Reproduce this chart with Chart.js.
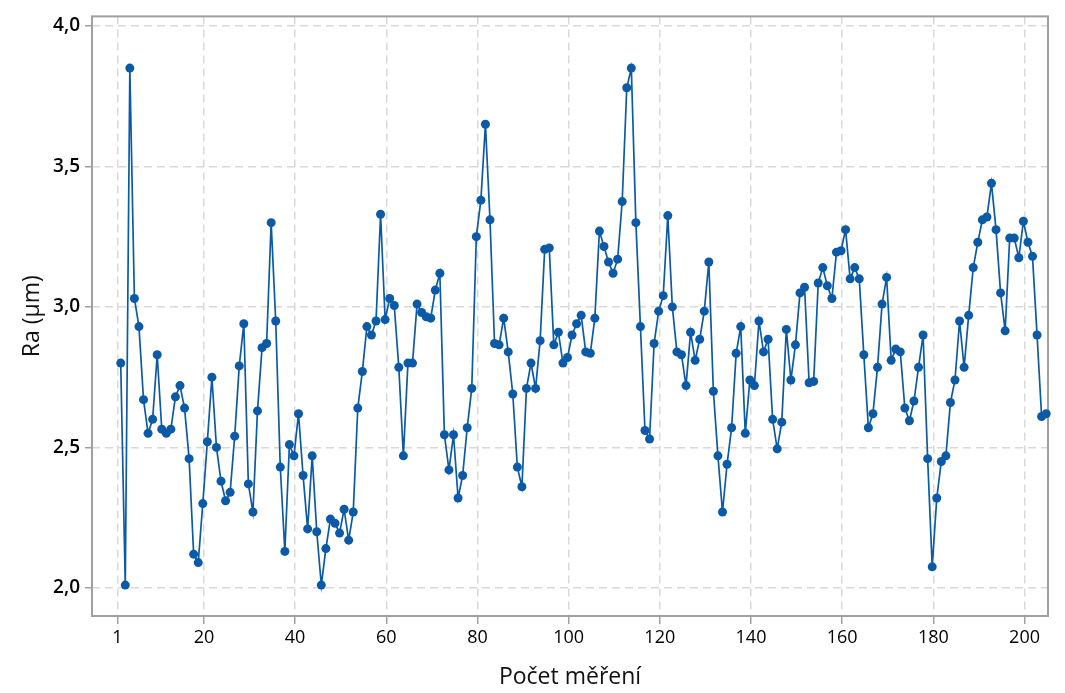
<!DOCTYPE html>
<html lang="cs">
<head>
  <meta charset="utf-8" />
  <title>Ra – průběh měření</title>
  <style>
    html, body { margin: 0; padding: 0; background: #fff; }
    #wrap { width: 1065px; height: 693px; position: relative; }
  </style>
</head>
<body>
  <div id="wrap"><canvas id="chartRa" width="1065" height="693"></canvas></div>
  <script src="https://cdn.jsdelivr.net/npm/chart.js@4.4.1/dist/chart.umd.min.js"></script>
  <script>
  const raValues = [
    2.80, 2.01, 3.85, 3.03, 2.93, 2.67, 2.55, 2.60, 2.83, 2.565,
    2.55, 2.565, 2.68, 2.72, 2.64, 2.46, 2.12, 2.09, 2.30, 2.52,
    2.75, 2.50, 2.38, 2.31, 2.34, 2.54, 2.79, 2.94, 2.37, 2.27,
    2.63, 2.855, 2.87, 3.30, 2.95, 2.43, 2.13, 2.51, 2.47, 2.62,
    2.40, 2.21, 2.47, 2.20, 2.01, 2.14, 2.245, 2.23, 2.195, 2.28,
    2.17, 2.27, 2.64, 2.77, 2.93, 2.90, 2.95, 3.33, 2.955, 3.03,
    3.005, 2.785, 2.47, 2.80, 2.80, 3.01, 2.98, 2.965, 2.96, 3.06,
    3.12, 2.545, 2.42, 2.545, 2.32, 2.40, 2.57, 2.71, 3.25, 3.38,
    3.65, 3.31, 2.87, 2.865, 2.96, 2.84, 2.69, 2.43, 2.36, 2.71,
    2.80, 2.71, 2.88, 3.205, 3.21, 2.865, 2.91, 2.80, 2.82, 2.90,
    2.94, 2.97, 2.84, 2.835, 2.96, 3.27, 3.215, 3.16, 3.12, 3.17,
    3.375, 3.78, 3.85, 3.30, 2.93, 2.56, 2.53, 2.87, 2.985, 3.04,
    3.325, 3.00, 2.84, 2.83, 2.72, 2.91, 2.81, 2.885, 2.985, 3.16,
    2.70, 2.47, 2.27, 2.44, 2.57, 2.835, 2.93, 2.55, 2.74, 2.72,
    2.95, 2.84, 2.885, 2.60, 2.495, 2.59, 2.92, 2.74, 2.865, 3.05,
    3.07, 2.73, 2.735, 3.085, 3.14, 3.075, 3.03, 3.195, 3.20, 3.275,
    3.10, 3.14, 3.10, 2.83, 2.57, 2.62, 2.785, 3.01, 3.105, 2.81,
    2.85, 2.84, 2.64, 2.595, 2.665, 2.785, 2.90, 2.46, 2.075, 2.32,
    2.45, 2.47, 2.66, 2.74, 2.95, 2.785, 2.97, 3.14, 3.23, 3.31,
    3.32, 3.44, 3.275, 3.05, 2.915, 3.245, 3.245, 3.175, 3.305, 3.23,
    3.18, 2.90, 2.61, 2.62
  ];
  const measurementNo = raValues.map(function (_, i) { return i + 1; });
  const xTicks = [1, 20, 40, 60, 80, 100, 120, 140, 160, 180, 200];
  const yTicks = [2.0, 2.5, 3.0, 3.5, 4.0];
  // in the original the x gridlines sit a little left of the points
  const xTickShift = 0.75;

  const lineColor = "#0b5aa8";
  const axisGray = "#a0a0a0";
  const gridGray = "#d9d9d9";
  const fontFamily = "'Open Sans', 'Noto Sans', sans-serif";

  // box round the plot area
  const frame = {
    id: "frame",
    beforeDatasetsDraw(chart) {
      const a = chart.chartArea;
      const ctx = chart.ctx;
      ctx.save();
      ctx.strokeStyle = axisGray;
      ctx.lineWidth = 2;
      ctx.strokeRect(a.left, a.top, a.right - a.left, a.bottom - a.top);
      ctx.restore();
    }
  };

  new Chart(document.getElementById("chartRa"), {
    type: "line",
    data: {
      datasets: [{
        data: measurementNo.map(function (n, i) { return { x: n, y: raValues[i] }; }),
        borderColor: lineColor,
        backgroundColor: lineColor,
        borderWidth: 1.7,
        pointRadius: 4.5,
        pointBorderWidth: 0,
        pointBackgroundColor: lineColor,
        tension: 0,
        clip: 6
      }]
    },
    plugins: [frame],
    options: {
      responsive: false,
      animation: false,
      devicePixelRatio: 1,
      layout: { padding: { left: 0, right: 17, top: 15, bottom: 0 } },
      plugins: { legend: { display: false }, tooltip: { enabled: false } },
      scales: {
        x: {
          type: "linear",
          min: -5.3,
          max: 204.4,
          afterBuildTicks: function (s) {
            s.ticks = xTicks.map(function (v) { return { value: v - xTickShift, label: String(v) }; });
          },
          afterFit: function (s) { s.height = 77; },
          border: { display: false, dash: [8, 5] },
          grid: {
            color: gridGray,
            lineWidth: 1.5,
            drawTicks: true,
            tickLength: 8,
            tickColor: axisGray,
            tickWidth: 1.5,
            tickBorderDash: []
          },
          ticks: {
            autoSkip: false,
            maxRotation: 0,
            padding: 3,
            color: "#000",
            font: { family: fontFamily, size: 18 },
            callback: function (v, i) { return String(xTicks[i]); }
          },
          title: {
            display: true,
            text: "Počet měření",
            color: "#111",
            padding: { top: 0, bottom: 2 },
            font: { family: fontFamily, size: 23 }
          }
        },
        y: {
          type: "linear",
          min: 1.9,
          max: 4.034,
          afterBuildTicks: function (s) { s.ticks = yTicks.map(function (v) { return { value: v }; }); },
          afterFit: function (s) { s.width = 92; },
          border: { display: false, dash: [8, 5] },
          grid: {
            color: gridGray,
            lineWidth: 1.5,
            drawTicks: true,
            tickLength: 7,
            tickColor: axisGray,
            tickWidth: 1.5,
            tickBorderDash: []
          },
          ticks: {
            autoSkip: false,
            padding: 5,
            color: "#000",
            font: { family: fontFamily, size: 19, weight: 600 },
            callback: function (v) { return v.toFixed(1).replace(".", ","); }
          },
          title: {
            display: true,
            text: "Ra (µm)",
            color: "#111",
            padding: { top: 19, bottom: 0 },
            font: { family: fontFamily, size: 23 }
          }
        }
      }
    }
  });
  </script>
</body>
</html>
